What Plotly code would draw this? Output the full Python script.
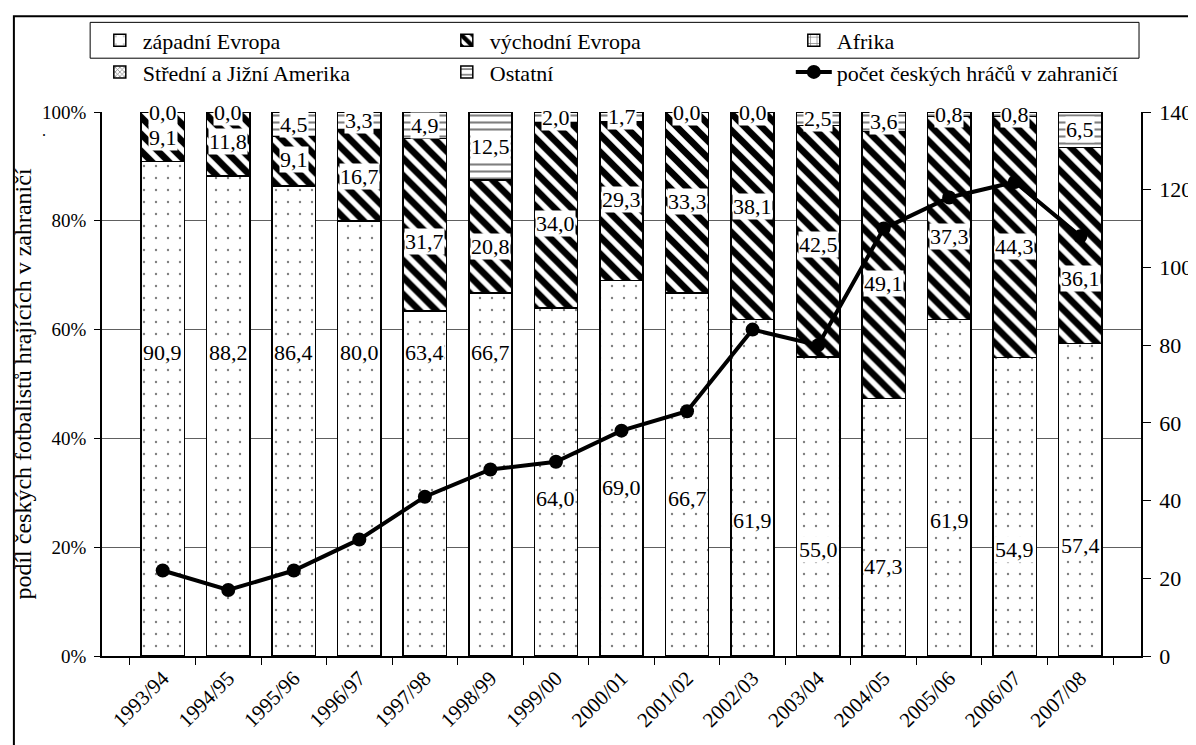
import plotly.graph_objects as go

# ---------------- data ----------------
seasons = ["1993/94", "1994/95", "1995/96", "1996/97", "1997/98", "1998/99", "1999/00",
           "2000/01", "2001/02", "2002/03", "2003/04", "2004/05", "2005/06", "2006/07", "2007/08"]
zapadni = [90.9, 88.2, 86.4, 80.0, 63.4, 66.7, 64.0, 69.0, 66.7, 61.9, 55.0, 47.3, 61.9, 54.9, 57.4]
vychodni = [9.1, 11.8, 9.1, 16.7, 31.7, 20.8, 34.0, 29.3, 33.3, 38.1, 42.5, 49.1, 37.3, 44.3, 36.1]
afrika = [0.0] * 15
amerika = [0.0] * 15
ostatni = [0.0, 0.0, 4.5, 3.3, 4.9, 12.5, 2.0, 1.7, 0.0, 0.0, 2.5, 3.6, 0.8, 0.8, 6.5]
pocet = [22, 17, 22, 30, 41, 48, 50, 58, 63, 84, 80, 110, 118, 122, 108]

# label placement (as positioned in the original chart, percent axis units)
zap_label_pos = [55.7, 55.7, 55.7, 55.7, 55.7, 55.7, 28.9, 31.0, 28.9, 24.9, 19.6, 16.5, 24.9, 19.6, 20.3]
vych_label_pos = [95.3, 94.5, 91.2, 88.1, 76.2, 75.3, 79.5, 83.9, 83.5, 82.6, 75.6, 68.5, 77.1, 75.3, 69.4]

FONT = "Liberation Serif, Tinos, Times New Roman, serif"
LINE = dict(color="black", width=1.5)
FS = 22


def fmt(v):
    return f"{v:.1f}".replace(".", ",")


fig = go.Figure()

fig.add_trace(go.Bar(
    x=seasons, y=zapadni, name="západní Evropa",
    marker=dict(color="white", line=LINE,
                pattern=dict(shape=".", fgcolor="black", bgcolor="white", size=12, solidity=0.03)),
))
fig.add_trace(go.Bar(
    x=seasons, y=vychodni, name="východní Evropa",
    marker=dict(color="white", line=LINE,
                pattern=dict(shape="\\", fgcolor="black", bgcolor="white", size=12, solidity=0.55,
                             fgopacity=1)),
))
fig.add_trace(go.Bar(
    x=seasons, y=afrika, name="Afrika",
    marker=dict(color="white", line=LINE,
                pattern=dict(shape="+", fgcolor="black", bgcolor="white", size=8, solidity=0.2)),
))
fig.add_trace(go.Bar(
    x=seasons, y=amerika, name="Střední a Jižní Amerika",
    marker=dict(color="white", line=LINE,
                pattern=dict(shape="x", fgcolor="black", bgcolor="white", size=4, solidity=0.4)),
))
fig.add_trace(go.Bar(
    x=seasons, y=ostatni, name="Ostatní",
    marker=dict(color="white", line=LINE,
                pattern=dict(shape="-", fgcolor="black", bgcolor="white", size=7, solidity=0.3)),
))
fig.add_trace(go.Scatter(
    x=seasons, y=pocet, name="počet českých hráčů v zahraničí", yaxis="y2",
    mode="lines+markers", line=dict(color="black", width=4),
    marker=dict(color="black", size=14, symbol="circle"),
))

annotations = []
for i, s in enumerate(seasons):
    annotations.append(dict(x=s, y=zap_label_pos[i], text=fmt(zapadni[i])))
    annotations.append(dict(x=s, y=vych_label_pos[i], text=fmt(vychodni[i])))
    annotations.append(dict(x=s, y=zapadni[i] + vychodni[i] + afrika[i] + amerika[i] + ostatni[i] / 2,
                            text=fmt(ostatni[i])))
for a in annotations:
    a.update(xref="x", yref="y", showarrow=False, bgcolor="white", borderpad=0,
             font=dict(family=FONT, size=FS, color="black"))

# small dot near the axis title (present in the original)
annotations.append(dict(xref="paper", yref="paper", x=-0.06, y=0.985, text=".", showarrow=False,
                        font=dict(family=FONT, size=16, color="black")))

fig.update_layout(
    width=1196, height=745,
    margin=dict(l=94, r=52, t=102, b=97),
    paper_bgcolor="white", plot_bgcolor="white",
    font=dict(family=FONT, size=FS, color="black"),
    barmode="stack", bargap=0.34,
    showlegend=True,
    legend=dict(orientation="h", x=-0.005, xanchor="left", y=1.17, yanchor="top",
                entrywidth=296, traceorder="normal", borderwidth=0,
                bgcolor="rgba(0,0,0,0)", font=dict(family=FONT, size=FS), itemwidth=36,
                tracegroupgap=0),
    xaxis=dict(type="category", tickangle=-45, tickson="boundaries", ticks="outside",
               ticklen=7, tickcolor="black", showline=True, linecolor="black", linewidth=1.5,
               showgrid=False, tickfont=dict(family=FONT, size=FS - 1)),
    yaxis=dict(range=[0, 100], dtick=20, ticksuffix="%", showgrid=True, gridcolor="#606060",
               gridwidth=1, ticks="outside", ticklen=6, tickcolor="black", showline=True,
               linecolor="black", linewidth=1.5, zeroline=False, ticklabelstandoff=4,
               title=dict(text="podíl českých fotbalistů hrajících v zahraničí",
                          font=dict(family=FONT, size=24), standoff=4),
               tickfont=dict(family=FONT, size=19)),
    yaxis2=dict(range=[0, 140], dtick=20, overlaying="y", side="right", showgrid=False,
                ticks="outside", ticklen=8, tickcolor="black", showline=True, linecolor="black",
                linewidth=1.5, zeroline=False, ticklabelstandoff=4,
                tickfont=dict(family=FONT, size=FS)),
    annotations=annotations,
    shapes=[
        dict(type="rect", xref="paper", yref="paper", x0=-0.0848, x1=1.06, y0=-0.2, y1=1.1758,
             line=dict(color="black", width=2), fillcolor="rgba(0,0,0,0)", layer="below"),
        # legend frame
        dict(type="rect", xref="paper", yref="paper", x0=-0.0114, x1=0.9981, y0=1.0989, y1=1.1648,
             line=dict(color="black", width=1), fillcolor="white", layer="below"),
    ],
)

fig.write_html("out.html")
